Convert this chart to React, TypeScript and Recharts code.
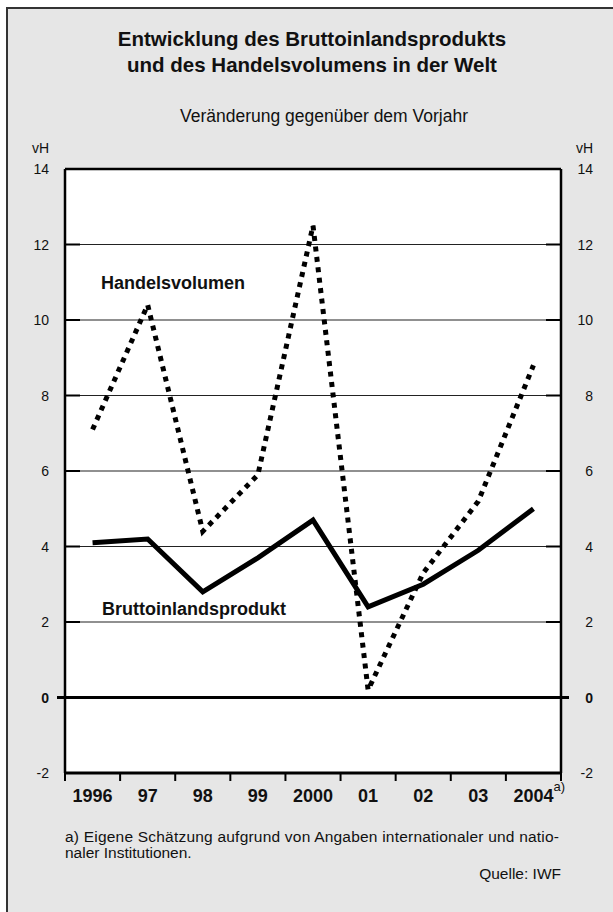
import React from 'react'
import { LineChart, Line, XAxis, YAxis, CartesianGrid, ReferenceLine } from 'recharts'

// Werte (vH, Veränderung gegenüber Vorjahr)
const years = ['1996', '97', '98', '99', '2000', '01', '02', '03', '2004']
const handelsvolumen = [7.1, 10.4, 4.4, 5.9, 12.5, 0.2, 3.3, 5.2, 8.8]
const bip = [4.1, 4.2, 2.8, 3.7, 4.7, 2.4, 3.0, 3.9, 5.0]
const yTicks = [-2, 0, 2, 4, 6, 8, 10, 12, 14]

const rows = years.map((year, i) => ({ year, handel: handelsvolumen[i], bip: bip[i] }))

const W = 613
const H = 912
const PLOT_LEFT = 65
const PLOT_RIGHT = 561
const PLOT_TOP = 169
const PLOT_BOTTOM = 773
const BAND = (PLOT_RIGHT - PLOT_LEFT) / years.length
const FONT = '"Liberation Sans", Arial, Helvetica, sans-serif'

const LeftTick = (props: any) => {
  const { x, y, payload } = props
  const zero = payload.value === 0
  return (
    <g>
      <line x1={x} x2={x + 15} y1={y} y2={y} stroke="#000" strokeWidth={2} />
      {zero && <line x1={x - 8} x2={x} y1={y} y2={y} stroke="#000" strokeWidth={3} />}
      <text x={x - 16} y={y + 5} textAnchor="end" fontSize={14} fontWeight={zero ? 'bold' : 'normal'} fill="#111" fontFamily={FONT}>
        {payload.value}
      </text>
    </g>
  )
}

const RightTick = (props: any) => {
  const { x, y, payload } = props
  const zero = payload.value === 0
  return (
    <g>
      <line x1={x - 15} x2={x} y1={y} y2={y} stroke="#000" strokeWidth={2} />
      {zero && <line x1={x} x2={x + 8} y1={y} y2={y} stroke="#000" strokeWidth={3} />}
      <text x={x + 32} y={y + 5} textAnchor="end" fontSize={14} fontWeight={zero ? 'bold' : 'normal'} fill="#111" fontFamily={FONT}>
        {payload.value}
      </text>
    </g>
  )
}

const YearTick = (props: any) => {
  const { x, y, payload, index } = props
  const last = index === years.length - 1
  return (
    <g>
      <line x1={x - BAND / 2} x2={x - BAND / 2} y1={y} y2={y + 8} stroke="#000" strokeWidth={2} />
      {last && <line x1={x + BAND / 2} x2={x + BAND / 2} y1={y} y2={y + 8} stroke="#000" strokeWidth={2} />}
      <text x={x} y={y + 29} textAnchor="middle" fontSize={18} fontWeight="bold" fill="#111" fontFamily={FONT}>
        {payload.value}
      </text>
      {last && (
        <text x={x + 20} y={y + 18} fontSize={13} fill="#111" fontFamily={FONT}>a)</text>
      )}
    </g>
  )
}

export default function App() {
  return (
    <div style={{ position: 'absolute', left: 0, top: 0, width: W, height: H, background: '#fff', overflow: 'hidden' }}>
      <div
        style={{
          position: 'absolute', left: 6, top: 7, width: W - 6, height: H - 7,
          background: '#e6e6e6', borderLeft: '2px solid #333', borderTop: '2px solid #333', boxSizing: 'border-box',
        }}
      />
      <div style={{ position: 'absolute', left: 0, top: 0 }}>
        <LineChart
          width={W}
          height={H}
          data={rows}
          margin={{ top: PLOT_TOP, right: 0, bottom: H - PLOT_BOTTOM - 40, left: 0 }}
        >
          <CartesianGrid yAxisId="l" vertical={false} stroke="#222" strokeWidth={1.2} fill="#fff" fillOpacity={1} />
          <XAxis
            dataKey="year"
            height={40}
            padding={{ left: BAND / 2, right: BAND / 2 }}
            axisLine={{ stroke: '#000', strokeWidth: 3 }}
            tickLine={false}
            tickSize={0}
            tickMargin={0}
            interval={0}
            tick={<YearTick />}
          />
          <YAxis
            yAxisId="l"
            width={PLOT_LEFT}
            domain={[-2, 14]}
            ticks={yTicks}
            interval={0}
            axisLine={{ stroke: '#000', strokeWidth: 2.5 }}
            tickLine={false}
            tickSize={0}
            tickMargin={0}
            tick={<LeftTick />}
          />
          <YAxis
            yAxisId="r"
            orientation="right"
            width={W - PLOT_RIGHT}
            domain={[-2, 14]}
            ticks={yTicks}
            interval={0}
            axisLine={{ stroke: '#000', strokeWidth: 2.5 }}
            tickLine={false}
            tickSize={0}
            tickMargin={0}
            tick={<RightTick />}
          />
          <ReferenceLine yAxisId="l" y={14} stroke="#000" strokeWidth={2.5} />
          <ReferenceLine yAxisId="l" y={0} stroke="#000" strokeWidth={3} />
          <Line
            yAxisId="l"
            dataKey="handel"
            stroke="#000"
            strokeWidth={5}
            strokeDasharray="5 5.5"
            dot={false}
            isAnimationActive={false}
          />
          <Line
            yAxisId="r"
            dataKey="bip"
            stroke="#000"
            strokeWidth={5}
            strokeLinejoin="miter"
            dot={false}
            isAnimationActive={false}
          />
        </LineChart>
      </div>
      <svg width={W} height={H} style={{ position: 'absolute', left: 0, top: 0, pointerEvents: 'none' }} fontFamily={FONT} fill="#111">
        <text x={312} y={46} textAnchor="middle" fontSize={20.5} fontWeight="bold">Entwicklung des Bruttoinlandsprodukts</text>
        <text x={312} y={72} textAnchor="middle" fontSize={20.5} fontWeight="bold">und des Handelsvolumens in der Welt</text>
        <text x={324} y={122} textAnchor="middle" fontSize={17.5}>Veränderung gegenüber dem Vorjahr</text>
        <text x={49} y={153} textAnchor="end" fontSize={14}>vH</text>
        <text x={593} y={153} textAnchor="end" fontSize={14}>vH</text>
        <text x={101} y={289} fontSize={18} fontWeight="bold">Handelsvolumen</text>
        <text x={102} y={615} fontSize={18} fontWeight="bold">Bruttoinlandsprodukt</text>
        <text x={65} y={842} fontSize={15.5} textLength={494} lengthAdjust="spacing">a) Eigene Schätzung aufgrund von Angaben internationaler und natio-</text>
        <text x={65} y={858} fontSize={15.5}>naler Institutionen.</text>
        <text x={561} y={879} textAnchor="end" fontSize={15.5}>Quelle: IWF</text>
      </svg>
    </div>
  )
}
